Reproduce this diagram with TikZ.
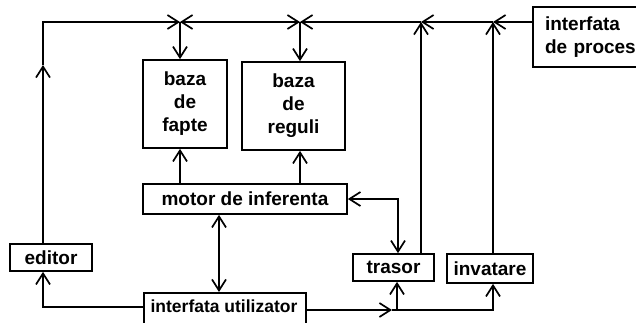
\documentclass[tikz,border=0pt]{standalone}
\usepackage{fontspec}
\setmainfont{Liberation Sans}
\usetikzlibrary{arrows.meta}
\begin{document}
\begin{tikzpicture}[x=1pt,y=-1pt,
  box/.style={draw,line width=1.7pt,rectangle,inner sep=0pt,font=\fontsize{19}{23}\selectfont\bfseries,align=center},
  tipb/.tip={Straight Barb[length=11pt,width=14pt,line width=1.7pt]},
  ln/.style={line width=1.7pt},
  arr/.style={ln,-tipb},
  darr/.style={ln,tipb-tipb}]
\useasboundingbox (0,0) rectangle (636,322);
\begin{scope}
\clip (0,0) rectangle (636,322);
% boxes
\node[box,minimum width=84pt,minimum height=88pt] (fapte) at (185,104) {baza\\de\\fapte};
\node[box,minimum width=103pt,minimum height=88pt] (reguli) at (293.5,106) {baza\\de\\reguli};
\node[box,minimum width=112pt,minimum height=60pt,align=left,text width=110pt] (proces) at (589,37) {\hspace*{11pt}interfata\\\hspace*{11pt}de proces};
\node[box,minimum width=204pt,minimum height=30pt] (motor) at (245,199) {motor de inferenta};
\node[box,minimum width=82pt,minimum height=27pt] (editor) at (51,257.5) {editor};
\node[box,minimum width=162pt,minimum height=34pt,anchor=north west] (util) at (143,292) {};
\node[font=\fontsize{17.5}{22}\selectfont\bfseries] (utiltext) at (224,306) {interfata utilizator};
\node[box,minimum width=81pt,minimum height=27pt] (trasor) at (393.5,267.5) {trasor};
\node[box,minimum width=86pt,minimum height=29pt] (invatare) at (490,268.5) {invatare};
\end{scope}
% coordinates
\coordinate (tl) at (43,22);
\coordinate (ea) at (43,65);
\coordinate (j1) at (180,22);
\coordinate (j2) at (300,22);
\coordinate (j3) at (421,22);
\coordinate (j4) at (493,22);
\coordinate (bl) at (43,307);
\coordinate (br) at (397,310);
\coordinate (bi) at (493,310);
\coordinate (mt) at (398,199);
% top bus
\draw[arr] (ea |- editor.north) -- (ea);
\draw[arr] (ea) -- (tl) -- (j1);
\draw[darr] (j1) -- (j2);
\draw[arr] (j3) -- (j2);
\draw[arr] (j4) -- (j3);
\draw[arr] (proces.west |- j4) -- (j4);
\draw[arr] (j1) -- (j1 |- fapte.north);
\draw[arr] (j2) -- (j2 |- reguli.north);
% motor
\draw[arr] (j1 |- motor.north) -- (j1 |- fapte.south);
\draw[arr] (j2 |- motor.north) -- (j2 |- reguli.south);
\draw[darr] (219,0 |- motor.south) -- (219,0 |- util.north);
\draw[darr] (motor.east) -- (mt) -- (mt |- trasor.north);
% trasor, invatare up
\draw[arr] (j3 |- trasor.north) -- (j3);
\draw[arr] (j4 |- invatare.north) -- (j4);
% bottom
\draw[arr] (util.west |- bl) -- (bl) -- (bl |- editor.south);
\draw[arr] (util.east |- br) -- ([xshift=-5pt]br);
\draw[ln] ([xshift=-5pt]br) -- (br);
\draw[arr] (br) -- (br |- trasor.south);
\draw[arr] (br) -- (bi) -- (bi |- invatare.south);
\end{tikzpicture}
\end{document}
